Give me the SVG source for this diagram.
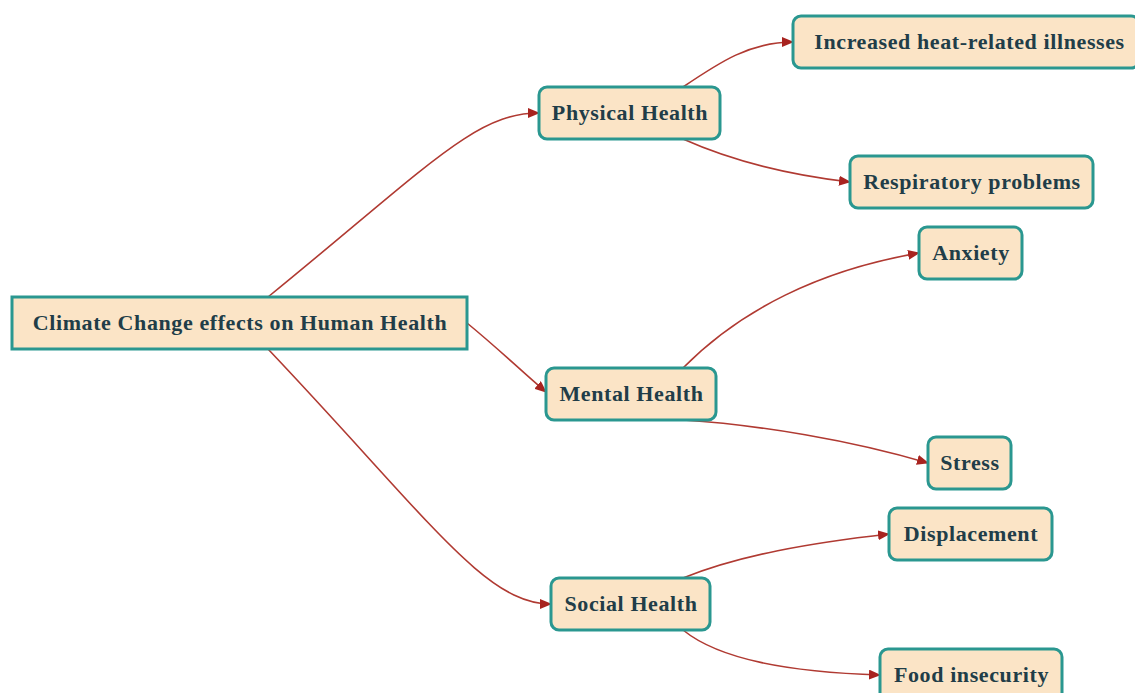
<svg xmlns="http://www.w3.org/2000/svg" width="1135" height="693" viewBox="0 0 1135 693">
  <defs>
    <marker id="arrow" viewBox="0 0 12 10" refX="11" refY="5" markerWidth="12" markerHeight="10" markerUnits="userSpaceOnUse" orient="auto">
      <path d="M0,0 L12,5 L0,10 z" fill="#a8231f"/>
    </marker>
    <style>
      .node rect { fill: #fbe4c6; stroke: #2a9790; stroke-width: 3; }
      .node text { font-family: "Liberation Serif", "Times New Roman", serif; font-weight: bold; font-size: 22px; letter-spacing: 0.6px; fill: #213d48; text-anchor: middle; dominant-baseline: central; }
      .edge { fill: none; stroke: #b03a32; stroke-width: 1.6; marker-end: url(#arrow); }
    </style>
  </defs>
  <rect width="1135" height="693" fill="#ffffff"/>

  <g id="connectors">
    <path class="edge" d="M268,297 C430,165 475,113 539,113"/>
    <path class="edge" d="M467,323 C500,350 520,370 546,392"/>
    <path class="edge" d="M268,349 C430,520 485,604 551,604"/>
    <path class="edge" d="M683,87 C720,62 750,42 793,42"/>
    <path class="edge" d="M683,139 C730,160 790,175 850,182"/>
    <path class="edge" d="M683,368 C740,310 820,270 919,253"/>
    <path class="edge" d="M683,420 C760,425 850,440 928,463"/>
    <path class="edge" d="M683,578 C740,555 810,543 889,534"/>
    <path class="edge" d="M683,630 C720,660 790,672 880,675"/>
  </g>

  <g id="root" class="node">
    <rect x="12" y="297" width="455" height="52"/>
    <text x="240" y="322">Climate Change effects on Human Health</text>
  </g>
  <g id="physical" class="node">
    <rect x="539" y="87" width="181" height="52" rx="8"/>
    <text x="630" y="112">Physical Health</text>
  </g>
  <g id="heat" class="node">
    <rect x="793" y="16" width="346" height="52" rx="8"/>
    <text x="969.5" y="41">Increased heat-related illnesses</text>
  </g>
  <g id="respiratory" class="node">
    <rect x="850" y="156" width="243" height="52" rx="8"/>
    <text x="972" y="181">Respiratory problems</text>
  </g>
  <g id="mental" class="node">
    <rect x="546" y="368" width="170" height="52" rx="8"/>
    <text x="631.5" y="393">Mental Health</text>
  </g>
  <g id="anxiety" class="node">
    <rect x="919" y="227" width="103" height="52" rx="8"/>
    <text x="971" y="252">Anxiety</text>
  </g>
  <g id="stress" class="node">
    <rect x="928" y="437" width="83" height="52" rx="8"/>
    <text x="970" y="462">Stress</text>
  </g>
  <g id="social" class="node">
    <rect x="551" y="578" width="159" height="52" rx="8"/>
    <text x="631" y="603">Social Health</text>
  </g>
  <g id="displacement" class="node">
    <rect x="889" y="508" width="163" height="52" rx="8"/>
    <text x="971" y="533">Displacement</text>
  </g>
  <g id="food" class="node">
    <rect x="880" y="649" width="182" height="52" rx="8"/>
    <text x="971.5" y="674">Food insecurity</text>
  </g>
</svg>
